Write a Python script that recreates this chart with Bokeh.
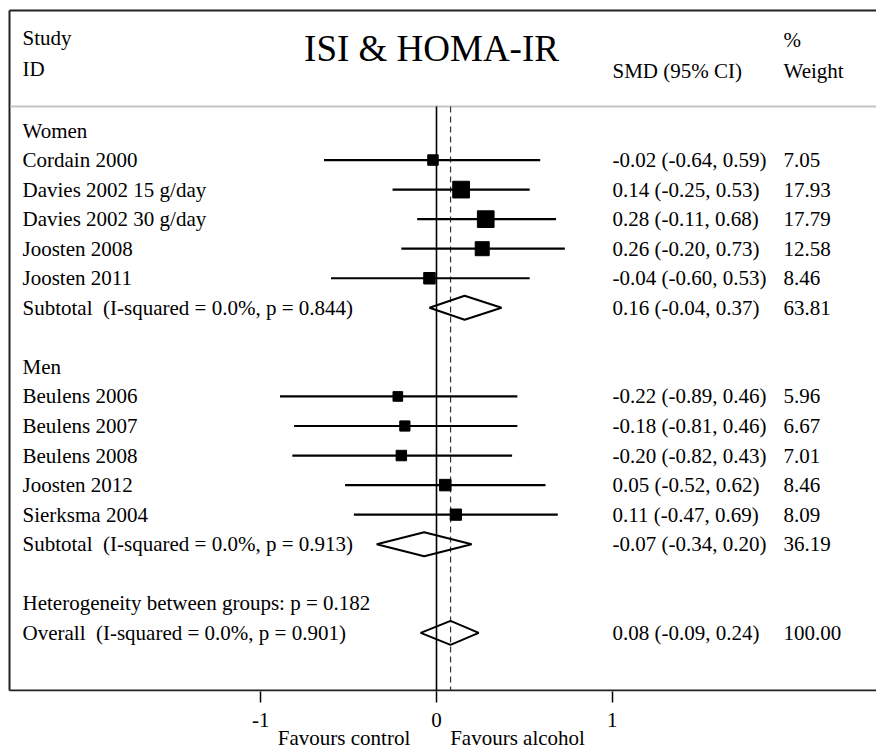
from bokeh.plotting import figure
from bokeh.models import Range1d, LinearAxis, FixedTicker
from bokeh.core.properties import value
from bokeh.embed import file_html
from bokeh.resources import INLINE
import numpy as np

# ---------------- data ----------------
title = "ISI & HOMA-IR"
women_studies = ["Cordain 2000", "Davies 2002 15 g/day", "Davies 2002 30 g/day",
                 "Joosten 2008", "Joosten 2011"]
women_smd = [-0.02, 0.14, 0.28, 0.26, -0.04]
women_lo = [-0.64, -0.25, -0.11, -0.20, -0.60]
women_hi = [0.59, 0.53, 0.68, 0.73, 0.53]
women_weight = [7.05, 17.93, 17.79, 12.58, 8.46]
women_sub = (0.16, -0.04, 0.37, 63.81)
women_sub_label = "Subtotal  (I-squared = 0.0%, p = 0.844)"

men_studies = ["Beulens 2006", "Beulens 2007", "Beulens 2008", "Joosten 2012", "Sierksma 2004"]
men_smd = [-0.22, -0.18, -0.20, 0.05, 0.11]
men_lo = [-0.89, -0.81, -0.82, -0.52, -0.47]
men_hi = [0.46, 0.46, 0.43, 0.62, 0.69]
men_weight = [5.96, 6.67, 7.01, 8.46, 8.09]
men_sub = (-0.07, -0.34, 0.20, 36.19)
men_sub_label = "Subtotal  (I-squared = 0.0%, p = 0.913)"

heterogeneity_label = "Heterogeneity between groups: p = 0.182"
overall = (0.08, -0.09, 0.24, 100.00)
overall_label = "Overall  (I-squared = 0.0%, p = 0.901)"

x_ticks = [-1, 0, 1]
x_tick_labels = ["-1", "0", "1"]
favour_labels = ["Favours control", "Favours alcohol"]

# ---------------- layout constants ----------------
W, H = 876, 752
FRAME_H = 691
BORDER_Y = 690
X0_PX = 436.0          # pixel of SMD = 0
UNIT_PX = 175.8        # pixels per SMD unit
ROW0, ROW_STEP = 130.0, 29.55
FONT = value("Liberation Serif")
FS = "21px"
X_LABEL, X_SMD, X_WT = 22, 612, 783


def row_y(i):
    return ROW0 + ROW_STEP * i


def keep_spaces(s):
    # keep double spaces visible in SVG text
    return s.replace("  ", " \u00a0")


p = figure(width=W, height=H, output_backend="svg", toolbar_location=None,
           x_range=Range1d(-X0_PX / UNIT_PX, (W - X0_PX) / UNIT_PX),
           y_range=Range1d(FRAME_H, 0),
           min_border_left=0, min_border_right=0, min_border_top=0,
           min_border_bottom=H - FRAME_H, y_axis_type=None)
p.extra_x_ranges = {"px": Range1d(0, W)}
p.xgrid.visible = False
p.ygrid.visible = False
p.outline_line_color = None
p.background_fill_color = "white"
p.border_fill_color = "white"

# x axis with ticks
ax = p.xaxis[0]
ax.ticker = FixedTicker(ticks=x_ticks)
ax.major_label_overrides = {t: s for t, s in zip(x_ticks, x_tick_labels)}
ax.axis_line_color = None
ax.major_tick_out = 11
ax.major_tick_in = 0
ax.major_tick_line_color = "black"
ax.major_tick_line_width = 1.5
ax.minor_tick_line_color = None
ax.major_label_text_font = "Liberation Serif"
ax.major_label_text_font_size = FS
ax.major_label_text_color = "black"
ax.major_label_standoff = 10

# second axis carrying the "Favours" labels
fav_pos = [-0.526, 0.461]
ax2 = LinearAxis(ticker=FixedTicker(ticks=fav_pos),
                 major_label_overrides={fav_pos[0]: favour_labels[0], fav_pos[1]: favour_labels[1]})
ax2.axis_line_color = None
ax2.major_tick_line_color = None
ax2.minor_tick_line_color = None
ax2.major_tick_out = 0
ax2.major_tick_in = 0
ax2.major_label_standoff = -4
ax2.major_label_text_font = "Liberation Serif"
ax2.major_label_text_font_size = FS
ax2.major_label_text_color = "black"
p.add_layout(ax2, "below")

# box border (left, top, bottom) and header separator
p.segment(x0=[9, 9, 9], y0=[10, 10, BORDER_Y], x1=[9, W + 5, W + 5], y1=[BORDER_Y, 10, BORDER_Y],
          x_range_name="px", line_color="#222222", line_width=2)
p.segment(x0=[10], y0=[106], x1=[W + 5], y1=[106], x_range_name="px",
          line_color="#c4c4c4", line_width=2)

# reference lines
p.segment(x0=[0], y0=[106], x1=[0], y1=[FRAME_H], line_color="black", line_width=1.6)
p.segment(x0=[overall[0]], y0=[106], x1=[overall[0]], y1=[BORDER_Y], line_color="#333333",
          line_width=1.2, line_dash="6 4")

# study rows
study_rows = list(range(1, 6)) + list(range(9, 14))
smd = women_smd + men_smd
lo = women_lo + men_lo
hi = women_hi + men_hi
wt = women_weight + men_weight
names = women_studies + men_studies
ys = [row_y(r) for r in study_rows]

p.segment(x0=lo, x1=hi, y0=ys, y1=ys, line_color="black", line_width=2.2)
p.scatter(x=smd, y=ys, marker="square", size=[3.95 * np.sqrt(w) for w in wt],
          fill_color="black", line_color="black")

# diamonds
dia_rows = [6, 14, 17]
dia_vals = [women_sub, men_sub, overall]
xs_d, ys_d = [], []
for r, (e, l, h, _) in zip(dia_rows, dia_vals):
    y = row_y(r)
    xs_d.append([l, e, h, e])
    ys_d.append([y, y - 12, y, y + 12])
p.patches(xs=xs_d, ys=ys_d, fill_alpha=0, line_color="black", line_width=2)

# texts
label_rows = [0] + study_rows[:5] + [6, 8] + study_rows[5:] + [14, 16, 17]
label_texts = (["Women"] + women_studies + [women_sub_label, "Men"] + men_studies +
               [men_sub_label, heterogeneity_label, overall_label])
p.text(x=[X_LABEL] * len(label_rows), y=[row_y(r) for r in label_rows],
       text=[keep_spaces(s) for s in label_texts],
       x_range_name="px", text_font=FONT, text_font_size=FS, text_baseline="middle",
       text_color="black")

num_rows = study_rows + dia_rows
all_vals = list(zip(smd, lo, hi, wt)) + dia_vals
smd_txt = [f"{e:.2f} ({l:.2f}, {h:.2f})" for e, l, h, _ in all_vals]
wt_txt = [f"{w:.2f}" for _, _, _, w in all_vals]
num_y = [row_y(r) for r in num_rows]
p.text(x=[X_SMD] * len(num_y), y=num_y, text=smd_txt, x_range_name="px", text_font=FONT,
       text_font_size=FS, text_baseline="middle", text_color="black")
p.text(x=[X_WT] * len(num_y), y=num_y, text=wt_txt, x_range_name="px", text_font=FONT,
       text_font_size=FS, text_baseline="middle", text_color="black")

# header
p.text(x=[X_LABEL, X_LABEL, X_SMD, X_WT, X_WT], y=[37, 68, 70, 39, 70],
       text=["Study", "ID", "SMD (95% CI)", "%", "Weight"], x_range_name="px",
       text_font=FONT, text_font_size=FS, text_baseline="middle", text_color="black")
p.text(x=[431], y=[48], text=[title], x_range_name="px", text_font=FONT,
       text_font_size="37px", text_baseline="middle", text_align="center", text_color="black")

open("out.html", "w").write(file_html(p, INLINE))
